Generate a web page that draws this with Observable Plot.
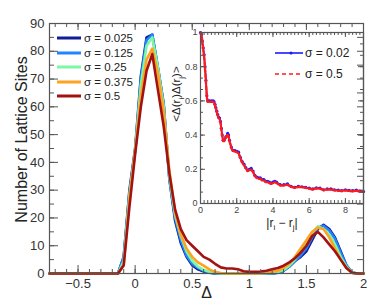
<!DOCTYPE html>
<html><head><meta charset="utf-8">
<script src="https://cdn.jsdelivr.net/npm/d3@7"></script>
<script src="https://cdn.jsdelivr.net/npm/@observablehq/plot@0.6"></script>
<style>
body{margin:0;background:#fff;font-family:"Liberation Sans",Arial,sans-serif;}
#wrap{position:relative;width:382px;height:307px;overflow:hidden;}
#wrap svg.plt{position:absolute;left:0;top:0;}
.leg{position:absolute;display:flex;align-items:center;white-space:nowrap;color:#222;}
.lab{position:absolute;white-space:nowrap;color:#222;line-height:1;}
</style></head><body><div id="wrap"></div>
<script>
// ---- main chart data ----
const deltaX = [-0.75,-0.7,-0.65,-0.6,-0.55,-0.5,-0.45,-0.4,-0.35,-0.3,-0.25,-0.2,-0.15,-0.1,-0.05,0,0.05,0.1,0.15,0.2,0.25,0.3,0.35,0.4,0.45,0.5,0.55,0.6,0.65,0.7,0.75,0.8,0.85,0.9,0.95,1.0,1.05,1.1,1.15,1.2,1.25,1.3,1.35,1.4,1.45,1.5,1.55,1.6,1.65,1.7,1.75,1.8,1.85,1.9,1.95,2.0];
const sigma0025 = [0,0,0,0,0,0,0,0,0,0,0,0,0, 6,30,45,71,85,86,74,61,34,19,11,6,3,1.5,0.7,0.3, 0,0,0,0,0,0,0,0,0,0,0, 0.3,1,2.5,4.5,6,8,12,16,17.5,16,13,8,3,0.3,0,0];
const sigma0125 = [0,0,0,0,0,0,0,0,0,0,0,0,0, 6,29,44,70,84,86,74,61,34,20,12,6.5,3.5,2,1,0.4, 0.1,0,0,0,0,0,0,0,0,0,0, 0.3,1,2.5,4.5,6.5,9,13,16.5,17.2,15.5,12.5,7.5,3,0.3,0,0];
const sigma025 = [0,0,0,0,0,0,0,0,0,0,0,0,0, 4.5,28,44,68,82,85,74,60,35,21,13.5,8,4.5,2.5,1.3,0.6,0.2, 0,0,0,0,0,0,0,0, 0.1,0.2,0.5,1.3,2.8,5,8,11,14.5,17,16,14,10.5,6,2.5,0.3,0,0];
const sigma0375 = [0,0,0,0,0,0,0,0,0,0,0,0,0, 3,27,44,64,77,81,72,58,37,22,14,9,6,4,2.8,1.5,0.6,0.2, 0,0,0,0,0,0, 0.1,0.3,0.6,1,2,3.5,6,9,12,15,16.5,16,13,9,5,2,0.3,0,0];
const sigma05 = [0,0,0,0,0,0,0,0,0,0,0,0,0, 3,24,43,60,73,79,66,53,36,23,16,12,10,8,6,5,3.5,2.2,1.8,1.8,1.5,0.8,0.6,0.6,0.7,1,1.5,2,2.8,4,5.5,7.5,10,13.5,15,13,10.5,8,5,2,0.3,0,0];
const seriesLabels = ["σ = 0.025","σ = 0.125","σ = 0.25","σ = 0.375","σ = 0.5"];
const seriesColors = ["#0f1d96","#1f86ff","#7cf7a4","#ffa21f","#a31212"];
const seriesValues = [sigma0025, sigma0125, sigma025, sigma0375, sigma05];
const xTickLabels = [-0.5,0,0.5,1,1.5,2];
const yTickLabels = [0,10,20,30,40,50,60,70,80,90];

// ---- inset data ----
const rDist = [0,0.05,0.1,0.15,0.2,0.25,0.3,0.35,0.4,0.5,0.6,0.7,0.75,0.8,0.85,0.9,0.95,1.0,1.05,1.1,1.15,1.2,1.25,1.3,1.4,1.5,1.55,1.6,1.7,1.8,1.9,2.0,2.1,2.2,2.3,2.4,2.5,2.6,2.7,2.8,2.9,3.0,3.1,3.2,3.3,3.4,3.5,3.6,3.7,3.8,3.9,4.0,4.1,4.2,4.4,4.6,4.8,5.0,5.2,5.4,5.6,5.8,6.0,6.2,6.4,6.6,6.8,7.0,7.2,7.4,7.6,7.8,8.0,8.2,8.4,8.6,8.8,9.0];
const corrBlue = [1.0,0.99,0.95,0.91,0.87,0.8,0.72,0.63,0.6,0.6,0.6,0.6,0.595,0.58,0.56,0.54,0.52,0.505,0.5,0.48,0.44,0.4,0.37,0.37,0.39,0.41,0.4,0.37,0.33,0.31,0.31,0.305,0.3,0.27,0.245,0.23,0.21,0.195,0.2,0.205,0.19,0.165,0.155,0.15,0.15,0.14,0.14,0.13,0.13,0.125,0.12,0.125,0.13,0.125,0.11,0.11,0.115,0.1,0.095,0.1,0.098,0.095,0.09,0.085,0.092,0.09,0.08,0.085,0.085,0.08,0.078,0.075,0.08,0.077,0.075,0.078,0.072,0.07];
const corrRed = [1.0,0.99,0.95,0.9,0.86,0.79,0.71,0.62,0.595,0.595,0.595,0.595,0.59,0.575,0.555,0.535,0.515,0.5,0.495,0.475,0.435,0.395,0.365,0.365,0.385,0.405,0.395,0.365,0.325,0.305,0.305,0.3,0.295,0.265,0.24,0.225,0.205,0.19,0.195,0.2,0.185,0.16,0.15,0.145,0.145,0.135,0.135,0.125,0.125,0.12,0.115,0.12,0.125,0.12,0.105,0.105,0.11,0.098,0.092,0.097,0.095,0.092,0.087,0.082,0.089,0.087,0.078,0.082,0.082,0.077,0.075,0.073,0.077,0.074,0.072,0.075,0.07,0.068];
const insetXTicks = [0,2,4,6,8];
const insetYTicks = [0,0.2,0.4,0.6,0.8,1];
const insetLabels = ["σ = 0.02","σ = 0.5"];

const FONT = "Liberation Sans, Arial, sans-serif";
const AX = "#555";
const wrap = document.getElementById("wrap");

// ---------- main plot ----------
const mW = 382, mH = 307, mT = 23, mR = 19, mB = 34, mL = 49;
const pw = mW - mL - mR, ph = mH - mT - mB;
const xMinor = d3.range(-7, 21).map(k => k / 10);
const yMinor = d3.range(0, 91, 5);
const rows = [];
seriesValues.forEach((vals, s) => vals.forEach((v, i) => rows.push({x: deltaX[i], y: v, s})));

const lineMarks = seriesValues.map((vals, s) =>
  Plot.line(rows.filter(d => d.s === s), {x: "x", y: "y", stroke: seriesColors[s], strokeWidth: 2.6, strokeLinejoin: "round"}));

const mainSvg = Plot.plot({
  width: mW, height: mH, marginTop: mT, marginRight: mR, marginBottom: mB, marginLeft: mL,
  style: {fontFamily: FONT, fontSize: "13px", color: "#333", background: "transparent", overflow: "visible"},
  x: {domain: [-0.75, 2]},
  y: {domain: [0, 90]},
  marks: [
    ...lineMarks,
    Plot.ruleX(xMinor, {x: d => d, insetTop: ph - 4, stroke: AX}),
    Plot.ruleX(xTickLabels, {x: d => d, insetTop: ph - 8, stroke: AX}),
    Plot.ruleX(xMinor, {x: d => d, insetBottom: ph - 4, stroke: AX}),
    Plot.ruleX(xTickLabels, {x: d => d, insetBottom: ph - 7, stroke: AX}),
    Plot.ruleY(yMinor, {y: d => d, insetRight: pw - 5, stroke: AX}),
    Plot.ruleY(yTickLabels, {y: d => d, insetRight: pw - 9, stroke: AX}),
    Plot.ruleY(yMinor, {y: d => d, insetLeft: pw - 6, stroke: AX}),
    Plot.frame({stroke: AX, strokeWidth: 1.2}),
    Plot.axisX({ticks: xTickLabels, tickSize: 0, tickPadding: 5, label: null, fontSize: 13, tickFormat: d => (d < 0 ? "−" + (-d) : String(d))}),
    Plot.axisY({ticks: yTickLabels, tickSize: 0, tickPadding: 5, label: null, fontSize: 13}),
    Plot.text(["Number of Lattice Sites"], {frameAnchor: "left", textAnchor: "middle", rotate: -90, dx: -28, dy: -9, fontSize: 16, fill: "#222"}),
    Plot.text(["Δ"], {frameAnchor: "bottom", dy: 24, fontSize: 16, fill: "#222"})
  ]
});
mainSvg.classList.add("plt");
wrap.appendChild(mainSvg);

// ---------- inset ----------
const iT = 32, iR = 19, iB = 104, iL = 200;
const ipw = mW - iL - iR, iph = mH - iT - iB;
const irMinor = d3.range(0, 46).map(k => k / 5);
const icMinor = d3.range(0, 16).map(k => k / 15);
const insetRows = rDist.map((r, i) => ({r, b: corrBlue[i], c: corrRed[i]}));
const insetSvg = Plot.plot({
  width: mW, height: mH, marginTop: iT, marginRight: iR, marginBottom: iB, marginLeft: iL,
  style: {fontFamily: FONT, fontSize: "9px", color: "#444", background: "transparent", overflow: "visible"},
  x: {domain: [0, 9]},
  y: {domain: [0, 1]},
  marks: [
    Plot.line(insetRows, {x: "r", y: "b", stroke: "#1a1aff", strokeWidth: 1.6}),
    Plot.dot(insetRows, {x: "r", y: "b", fill: "#1a1aff", r: 1.6}),
    Plot.line(insetRows, {x: "r", y: "c", stroke: "#ff1a1a", strokeWidth: 2.4, strokeDasharray: "4,2"}),
    Plot.ruleX(irMinor, {x: d => d, insetTop: iph - 3, stroke: AX}),
    Plot.ruleX(insetXTicks, {x: d => d, insetTop: iph - 5, stroke: AX}),
    Plot.ruleX(irMinor, {x: d => d, insetBottom: iph - 3, stroke: AX}),
    Plot.ruleX(insetXTicks, {x: d => d, insetBottom: iph - 5, stroke: AX}),
    Plot.ruleY(icMinor, {y: d => d, insetRight: ipw - 3, stroke: AX}),
    Plot.ruleY(insetYTicks, {y: d => d, insetRight: ipw - 5, stroke: AX}),
    Plot.ruleY(icMinor, {y: d => d, insetLeft: ipw - 3, stroke: AX}),
    Plot.ruleY(insetYTicks, {y: d => d, insetLeft: ipw - 5, stroke: AX}),
    Plot.frame({stroke: AX, strokeWidth: 1.2}),
    Plot.axisX({ticks: insetXTicks, tickSize: 0, tickPadding: 3, label: null, fontSize: 9}),
    Plot.axisY({ticks: insetYTicks, tickSize: 0, tickPadding: 3, label: null, fontSize: 9, tickFormat: d3.format("~g")})
  ]
});
insetSvg.classList.add("plt");
wrap.appendChild(insetSvg);

// ---------- legends ----------
seriesLabels.forEach((lab, s) => {
  const d = document.createElement("div");
  d.className = "leg";
  d.style.left = "57px";
  d.style.top = (38 + s * 14.5 - 7) + "px";
  d.style.height = "14px";
  d.style.fontSize = "11.5px";
  d.innerHTML = `<svg width="26" height="14" style="margin-right:1px"><line x1="0" y1="7" x2="24" y2="7" stroke="${seriesColors[s]}" stroke-width="3"/></svg><span>${lab}</span>`;
  wrap.appendChild(d);
});
insetLabels.forEach((lab, s) => {
  const d = document.createElement("div");
  d.className = "leg";
  d.style.left = "275px";
  d.style.top = (53 + s * 21 - 8) + "px";
  d.style.height = "16px";
  d.style.fontSize = "12px";
  const line = s === 0
    ? `<line x1="0" y1="8" x2="28" y2="8" stroke="#1a1aff" stroke-width="1.6"/><circle cx="16" cy="8" r="1.6" fill="#1a1aff"/>`
    : `<line x1="0" y1="8" x2="28" y2="8" stroke="#ff1a1a" stroke-width="1.6" stroke-dasharray="4,3"/>`;
  d.innerHTML = `<svg width="29" height="16" style="margin-right:1px">${line}</svg><span>${lab}</span>`;
  wrap.appendChild(d);
});

// ---------- inset axis labels ----------
const xl = document.createElement("div");
xl.className = "lab";
xl.style.cssText += "left:282px;top:223px;transform:translate(-50%,-50%);font-size:12px;";
xl.innerHTML = "|r<sub style='font-size:8px;line-height:0'>i</sub> − r<sub style='font-size:8px;line-height:0'>j</sub>|";
wrap.appendChild(xl);
const yl = document.createElement("div");
yl.className = "lab";
yl.style.cssText += "left:177px;top:94px;transform:translate(-50%,-50%) rotate(-90deg);font-size:11.5px;";
yl.innerHTML = "&lt;Δ(r<sub style='font-size:8px;line-height:0'>i</sub>)Δ(r<sub style='font-size:8px;line-height:0'>j</sub>)&gt;";
wrap.appendChild(yl);
</script></body></html>
